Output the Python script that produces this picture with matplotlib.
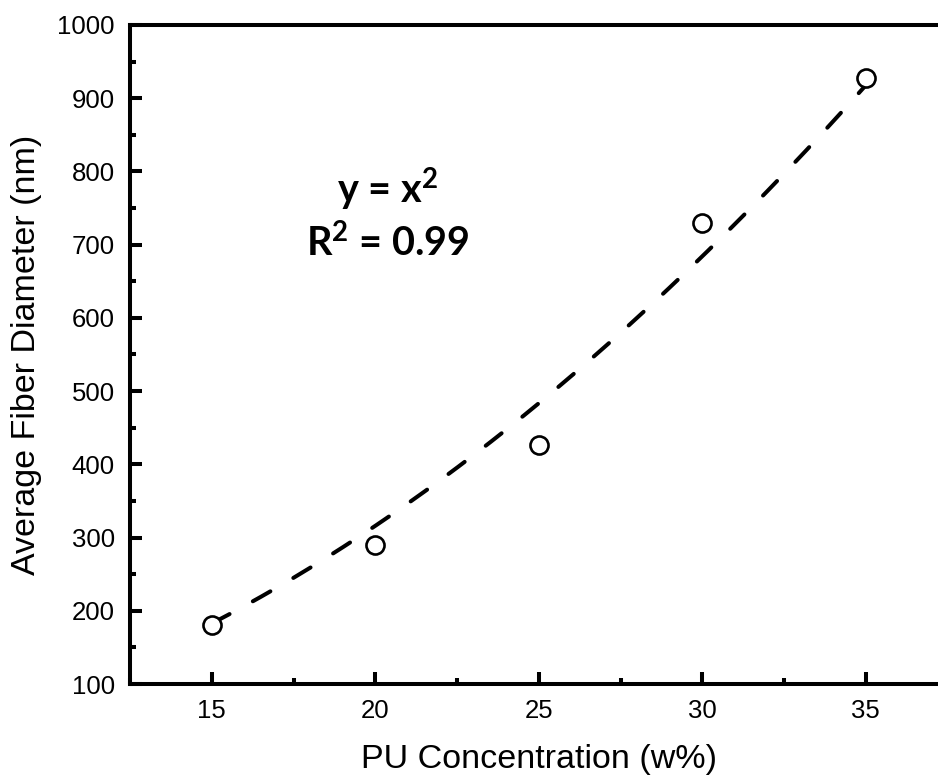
import numpy as np
import matplotlib
matplotlib.use("Agg")
import matplotlib.pyplot as plt
from matplotlib.ticker import MultipleLocator

# Data
concentration = [15, 20, 25, 30, 35]          # PU concentration (w%)
diameter = [180, 290, 427, 729, 928]          # average fiber diameter (nm)

# Power-law fit parameters (y = a * x^b)
fit_a = 1.05
fit_b = 1.905

x_ticks = [15, 20, 25, 30, 35]
y_ticks = [100, 200, 300, 400, 500, 600, 700, 800, 900, 1000]

plt.rcParams['font.family'] = ['Liberation Sans', 'DejaVu Sans']
plt.rcParams['mathtext.fontset'] = 'custom'
plt.rcParams['mathtext.rm'] = 'Lato:bold'
plt.rcParams['mathtext.bf'] = 'Lato:bold'
plt.rcParams['mathtext.it'] = 'Lato:bold'
plt.rcParams['mathtext.default'] = 'rm'

W, H = 938, 778
fig = plt.figure(figsize=(W / 100, H / 100), dpi=100)
ax = fig.add_axes([130 / W, 94 / H, 817.5 / W, 659 / H])

xf = np.linspace(concentration[0], concentration[-1], 200)
yf = fit_a * xf ** fit_b
ax.plot(xf, yf, color='black', lw=2.9, dashes=(5.0, 6.6),
        dash_capstyle='round', zorder=2)

ax.plot(concentration, diameter, linestyle='none', marker='o', ms=13,
        mfc='white', mec='black', mew=1.9, zorder=3)

ax.set_xlim(12.5, 37.5)
ax.set_ylim(100, 1000)
ax.set_xticks(x_ticks)
ax.set_yticks(y_ticks)
ax.xaxis.set_minor_locator(MultipleLocator(2.5))
ax.yaxis.set_minor_locator(MultipleLocator(50))

for side in ['left', 'bottom', 'top']:
    ax.spines[side].set_linewidth(2.9)
ax.spines['right'].set_visible(False)

ax.tick_params(which='major', direction='in', length=8.5, width=2.9,
               labelsize=18.5, pad=11, top=False, right=False)
ax.tick_params(which='minor', direction='in', length=4.5, width=2.9,
               top=False, right=False)

ax.set_xlabel('PU Concentration (w%)', fontsize=24.5, labelpad=15)
ax.set_ylabel('Average Fiber Diameter (nm)', fontsize=24.5, labelpad=11)

ax.text(20.38, 757, 'y = x$^{2}$', fontsize=28.5, fontweight='bold',
        family=['Lato', 'DejaVu Sans'], ha='center', va='baseline')
ax.text(20.38, 683.6, 'R$^{2}$ = 0.99', fontsize=28.5, fontweight='bold',
        family=['Lato', 'DejaVu Sans'], ha='center', va='baseline')

fig.savefig('out.png', dpi=100)
